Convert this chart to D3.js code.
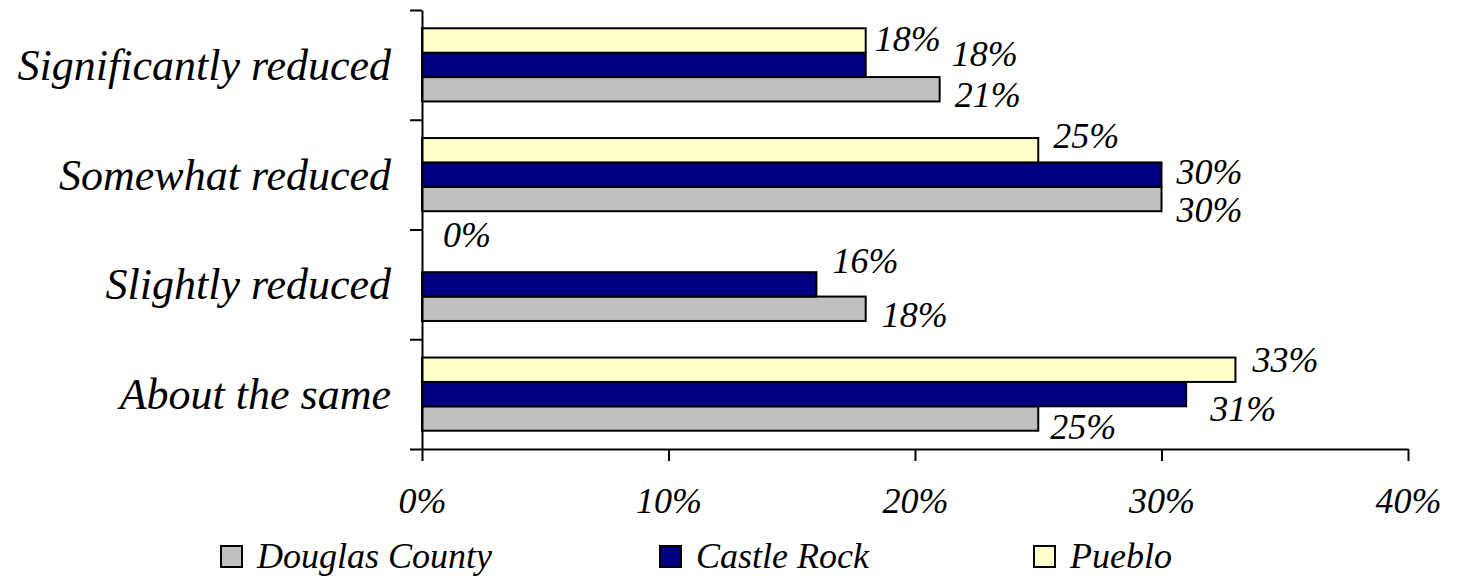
<!DOCTYPE html>
<html>
<head>
<meta charset="utf-8">
<script src="https://cdn.jsdelivr.net/npm/d3@7"></script>
<style>
  html, body { margin: 0; padding: 0; background: #ffffff; }
  svg { display: block; }
  text { font-family: "Liberation Serif", "Times New Roman", serif; font-style: italic; fill: #000; }
</style>
</head>
<body>
<svg id="chart" width="1457" height="576"></svg>
<script>
// ---------------- data ----------------
const categories = ["Significantly reduced", "Somewhat reduced", "Slightly reduced", "About the same"];
const seriesNames = ["Douglas County", "Castle Rock", "Pueblo"];
const douglasCounty = [21, 30, 18, 25];
const castleRock = [18, 30, 16, 31];
const pueblo = [18, 25, 0, 33];
const xTickValues = [0, 10, 20, 30, 40];

// ---------------- layout / style ----------------
const colors = { "Douglas County": "#C0C0C0", "Castle Rock": "#000080", "Pueblo": "#FFFFCC" };
const seriesValues = { "Douglas County": douglasCounty, "Castle Rock": castleRock, "Pueblo": pueblo };
// label nudges [dx from bar end, dy of baseline from bar centre], per category, per series
const labelNudge = {
  "Douglas County": [[15, 18], [15, 23], [16, 18], [12, 20]],
  "Castle Rock":    [[86, 1],  [15, 9],  [16, -11], [24, 27]],
  "Pueblo":         [[9, 11],  [15, -2], [21, -13], [17, 2]]
};

const svg = d3.select("#chart");
const plotLeft = 422, plotRight = 1408, plotTop = 10, plotBottom = 449;

const x = d3.scaleLinear().domain([0, 40]).range([plotLeft, plotRight]);
const y = d3.scaleBand().domain(categories).range([plotTop, plotBottom]).padding(0);
// within a band: top-to-bottom Pueblo, Castle Rock, Douglas County
const yInner = d3.scaleBand().domain(["Pueblo", "Castle Rock", "Douglas County"])
  .range([0, y.bandwidth()]).paddingInner(0).paddingOuter(0.75);
const yBound = d3.scaleLinear().domain([0, categories.length]).range([plotTop, plotBottom]);

// bars
const rows = [];
seriesNames.forEach(s => {
  categories.forEach((c, i) => rows.push({ series: s, cat: c, i: i, v: seriesValues[s][i] }));
});

svg.append("g").selectAll("rect")
  .data(rows.filter(d => d.v > 0))
  .join("rect")
  .attr("x", x(0))
  .attr("y", d => y(d.cat) + yInner(d.series))
  .attr("width", d => x(d.v) - x(0))
  .attr("height", yInner.bandwidth())
  .attr("fill", d => colors[d.series])
  .attr("stroke", "#000")
  .attr("stroke-width", 2);

// data labels
svg.append("g").selectAll("text")
  .data(rows)
  .join("text")
  .attr("x", d => x(d.v) + labelNudge[d.series][d.i][0])
  .attr("y", d => y(d.cat) + yInner(d.series) + yInner.bandwidth() / 2 + labelNudge[d.series][d.i][1])
  .attr("font-size", 36)
  .text(d => d.v + "%");

// x axis
const xAxis = svg.append("g")
  .attr("transform", `translate(0,${plotBottom})`)
  .call(d3.axisBottom(x).tickValues(xTickValues).tickSize(12).tickSizeOuter(0).tickFormat(d => d + "%"));
xAxis.select(".domain").attr("stroke", "#000").attr("stroke-width", 2);
xAxis.selectAll(".tick line").attr("stroke", "#000").attr("stroke-width", 2);
xAxis.selectAll(".tick text")
  .attr("y", 64).attr("dy", 0)
  .attr("font-size", 36)
  .attr("fill", "#000");

// y axis (boundary ticks)
const yAxis = svg.append("g")
  .attr("transform", `translate(${plotLeft},0)`)
  .call(d3.axisLeft(yBound).tickValues(d3.range(categories.length + 1)).tickSize(12).tickSizeOuter(0).tickFormat(""));
yAxis.select(".domain").attr("stroke", "#000").attr("stroke-width", 2);
yAxis.selectAll(".tick line").attr("stroke", "#000").attr("stroke-width", 2);

// category labels
svg.append("g").selectAll("text")
  .data(categories)
  .join("text")
  .attr("x", 391)
  .attr("y", d => y(d) + y.bandwidth() / 2 + 15)
  .attr("text-anchor", "end")
  .attr("font-size", 44)
  .text(d => d);

// legend
const legendX = [221, 660, 1034];
const lg = svg.append("g").selectAll("g")
  .data(seriesNames)
  .join("g")
  .attr("transform", (d, i) => `translate(${legendX[i]},546)`);
lg.append("rect")
  .attr("x", 0).attr("y", 0).attr("width", 21).attr("height", 21)
  .attr("fill", d => colors[d]).attr("stroke", "#000").attr("stroke-width", 2);
lg.append("text")
  .attr("x", 36).attr("y", 22)
  .attr("font-size", 36)
  .text(d => d);
</script>
</body>
</html>
